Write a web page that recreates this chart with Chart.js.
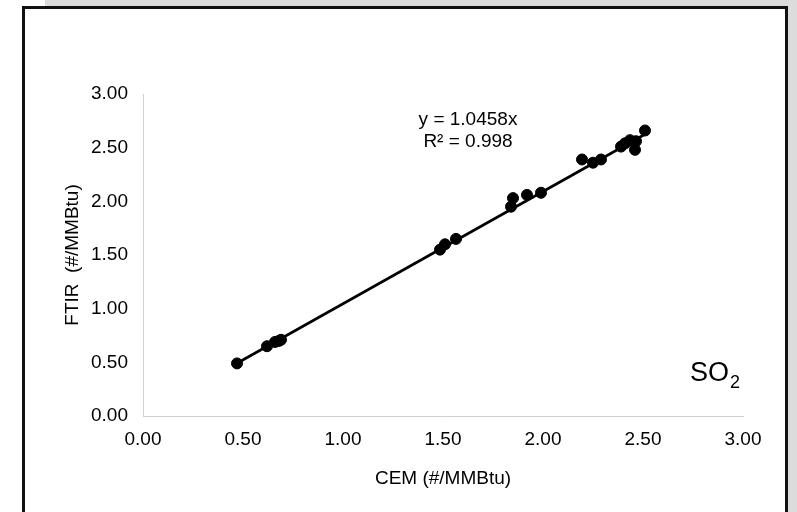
<!DOCTYPE html>
<html>
<head>
  <title>SO2 FTIR vs CEM</title>
  <script src="https://cdn.jsdelivr.net/npm/chart.js"></script>
  <style>
    body { margin: 0; background: #fff; }
    #wrap { position: relative; width: 797px; height: 512px; overflow: hidden; }
    .scan { position: absolute; background: #dcdcdc; }
    #frame {
      position: absolute; left: 22px; top: 6px; width: 760px; height: 520px;
      border: 3px solid #111; background: #fff;
    }
    #chart { position: absolute; left: 0; top: 0; }
  </style>
</head>
<body>
  <div id="wrap">
    <div class="scan" style="left:45px; top:0; width:752px; height:7px;"></div>
    <div class="scan" style="left:788px; top:0; width:9px; height:512px;"></div>
    <div id="frame"></div>
    <canvas id="chart" width="797" height="512"></canvas>
  </div>

  <script>
    // valori (CEM pe x, FTIR pe y)
    const cemValues  = [0.47, 0.62, 0.66, 0.68, 0.69, 1.485, 1.51, 1.565, 1.84, 1.85, 1.92, 1.99,
                        2.195, 2.25, 2.29, 2.39, 2.41, 2.435, 2.465, 2.46, 2.51];
    const ftirValues = [0.49, 0.65, 0.69, 0.70, 0.71, 1.55, 1.60, 1.65, 1.95, 2.03, 2.06, 2.08,
                        2.39, 2.36, 2.39, 2.51, 2.54, 2.57, 2.56, 2.48, 2.66];
    const trendSlope = 1.0458;
    const trendX = [0.47, 2.51];
    const axisTicks = [0, 0.5, 1, 1.5, 2, 2.5, 3];
    const equationText = "y = 1.0458x";
    const r2Text = "R² = 0.998";

    const points = cemValues.map((x, i) => ({ x: x, y: ftirValues[i] }));
    const trendPoints = trendX.map(x => ({ x: x, y: trendSlope * x }));

    const font = "'Liberation Sans', Arial, sans-serif";

    // text extra: ecuatia si eticheta SO2
    const labelsPlugin = {
      id: "labels",
      afterDatasetsDraw(chart) {
        const ctx = chart.ctx;
        const xs = chart.scales.x, ys = chart.scales.y;
        ctx.save();
        ctx.fillStyle = "#000";
        ctx.textAlign = "center";
        ctx.textBaseline = "middle";
        ctx.font = "19px " + font;
        ctx.fillText(equationText, xs.getPixelForValue(1.625), ys.getPixelForValue(2.76));
        ctx.fillText(r2Text, xs.getPixelForValue(1.625), ys.getPixelForValue(2.555));
        ctx.textAlign = "left";
        ctx.textBaseline = "alphabetic";
        ctx.font = "27px " + font;
        const sx = xs.getPixelForValue(2.735), sy = ys.getPixelForValue(0.33);
        ctx.fillText("SO", sx, sy);
        const w = ctx.measureText("SO").width;
        ctx.font = "18px " + font;
        ctx.fillText("2", sx + w + 1, sy + 7);
        ctx.restore();
      }
    };

    const ctx = document.getElementById("chart").getContext("2d");
    new Chart(ctx, {
      type: "scatter",
      data: {
        datasets: [
          {
            label: "Trend",
            type: "line",
            data: trendPoints,
            borderColor: "#000",
            borderWidth: 2.6,
            pointRadius: 0,
            fill: false,
            order: 2
          },
          {
            label: "SO2",
            data: points,
            backgroundColor: "#000",
            borderColor: "#000",
            pointRadius: 5.5,
            pointHoverRadius: 5.5,
            order: 1
          }
        ]
      },
      options: {
        responsive: false,
        animation: false,
        events: [],
        layout: { padding: { left: 0, top: 94, right: 54, bottom: 0 } },
        plugins: { legend: { display: false }, tooltip: { enabled: false } },
        scales: {
          x: {
            type: "linear",
            min: 0, max: 3,
            afterBuildTicks: axis => { axis.ticks = axisTicks.map(v => ({ value: v })); },
            afterFit: axis => { axis.height = 96; },
            grid: { display: false },
            border: { display: true, color: "#d0d0d0", width: 1 },
            ticks: {
              padding: 4,
              color: "#000",
              font: { family: font, size: 19 },
              callback: v => Number(v).toFixed(2)
            },
            title: {
              display: true,
              text: "CEM (#/MMBtu)",
              color: "#000",
              font: { family: font, size: 19 },
              padding: { top: 0, bottom: 22 }
            }
          },
          y: {
            type: "linear",
            min: 0, max: 3,
            afterBuildTicks: axis => { axis.ticks = axisTicks.map(v => ({ value: v })); },
            afterFit: axis => { axis.width = 143; },
            grid: { display: false },
            border: { display: true, color: "#d0d0d0", width: 1 },
            ticks: {
              padding: 7,
              color: "#000",
              font: { family: font, size: 19 },
              callback: v => Number(v).toFixed(2)
            },
            title: {
              display: true,
              text: "FTIR  (#/MMBtu)",
              color: "#000",
              font: { family: font, size: 19 },
              padding: { top: 61, bottom: 0 }
            }
          }
        }
      },
      plugins: [labelsPlugin]
    });
  </script>
</body>
</html>
